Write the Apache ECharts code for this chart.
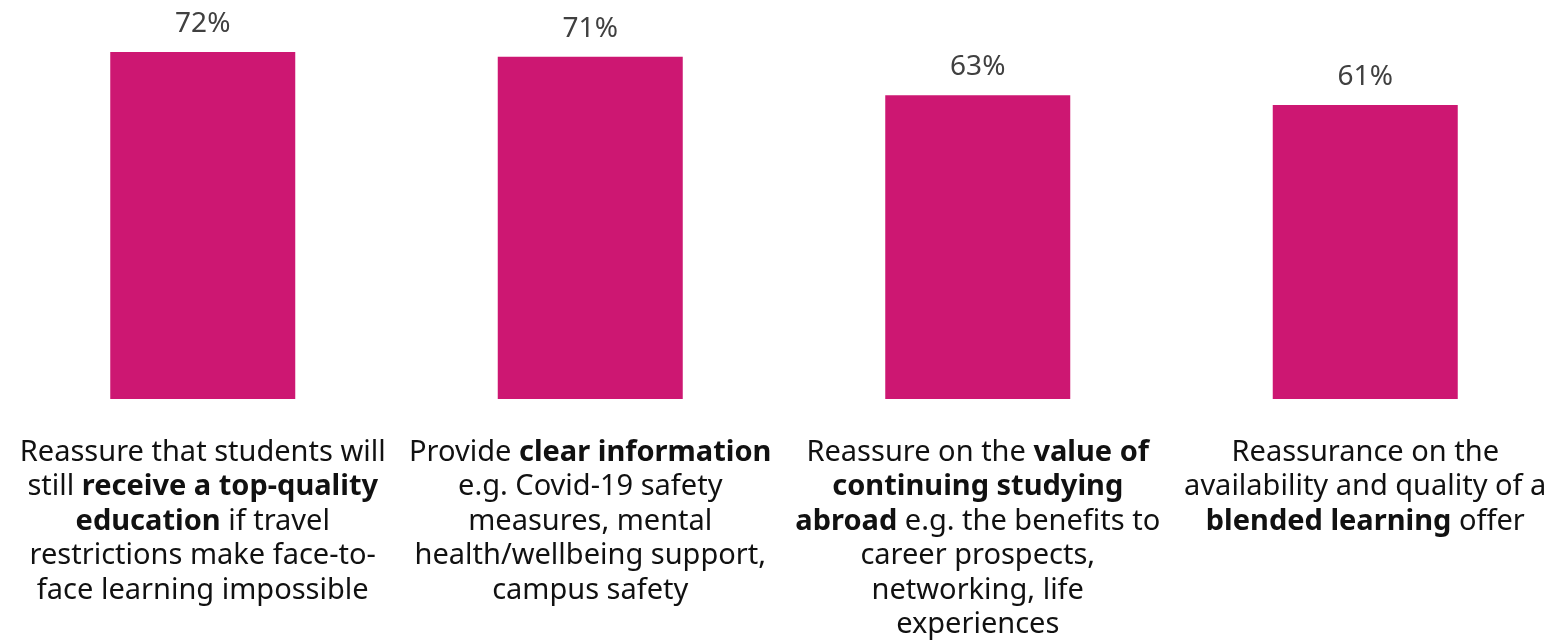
<!DOCTYPE html>
<html>
<head>
<meta charset="utf-8">
<script src="https://cdn.jsdelivr.net/npm/echarts@6/dist/echarts.min.js"></script>
<style>
  html, body { margin: 0; padding: 0; background: #fff; }
  #chart { width: 1567px; height: 642px; }
</style>
</head>
<body>
<div id="chart"></div>
<script>
// Category labels: {b|...} marks the bold phrases, \n the line breaks
const categories = [
  'Reassure that students will\nstill {b|receive a top-quality}\n{b|education} if travel\nrestrictions make face-to-\nface learning impossible',
  'Provide {b|clear information}\ne.g. Covid-19 safety\nmeasures, mental\nhealth/wellbeing support,\ncampus safety',
  'Reassure on the {b|value of}\n{b|continuing studying}\n{b|abroad} e.g. the benefits to\ncareer prospects,\nnetworking, life\nexperiences',
  'Reassurance on the\navailability and quality of a\n{b|blended learning} offer'
];
const values = [72, 71, 63, 61];

const FONT = '"Noto Sans", "Open Sans", sans-serif';
const chart = echarts.init(document.getElementById('chart'), null, { renderer: 'canvas' });

chart.setOption({
  backgroundColor: '#ffffff',
  animation: false,
  grid: { left: 9, right: 8, top: 13.33, bottom: 242, containLabel: false },
  xAxis: {
    type: 'category',
    data: categories,
    axisLine: { show: false },
    axisTick: { show: false },
    axisLabel: {
      interval: 0,
      margin: 36,
      color: '#111111',
      fontFamily: FONT,
      fontSize: 29,
      lineHeight: 34.5,
      align: 'center',
      rich: {
        b: { fontWeight: 'bold', fontFamily: FONT, fontSize: 29, lineHeight: 34.5, color: '#111111' }
      }
    }
  },
  yAxis: {
    type: 'value',
    min: 0,
    max: 80,
    show: false,
    splitLine: { show: false }
  },
  series: [{
    type: 'bar',
    data: values,
    barWidth: 185,
    itemStyle: { color: '#CD1772' },
    label: {
      show: true,
      position: 'top',
      distance: 14,
      formatter: '{c}%',
      color: '#404040',
      fontFamily: FONT,
      fontSize: 28
    }
  }]
});
</script>
</body>
</html>
